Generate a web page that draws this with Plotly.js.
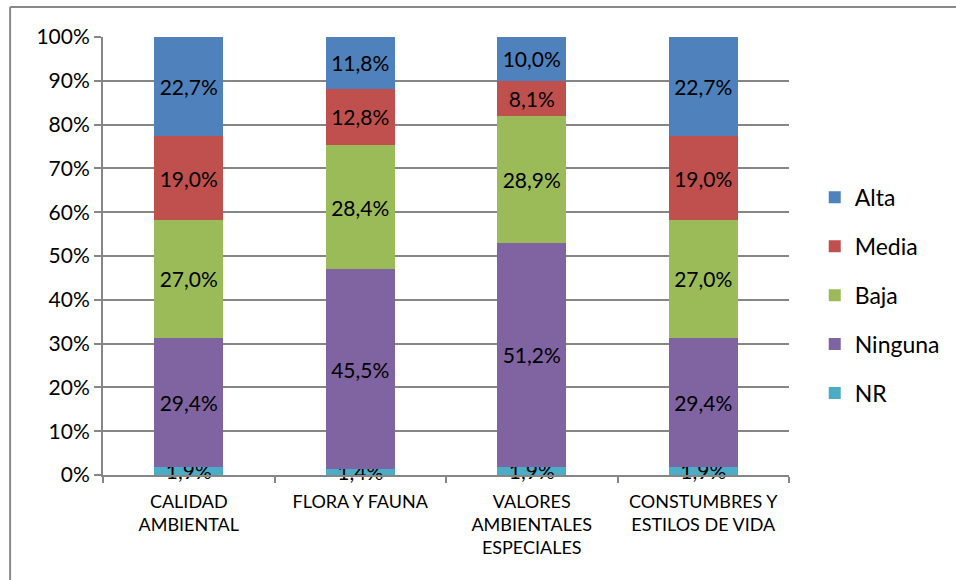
<!DOCTYPE html>
<html>
<head>
<meta charset="utf-8">
<script src="https://cdn.plot.ly/plotly-3.0.1.min.js"></script>
<style>html,body{margin:0;padding:0;background:#fff;}#chart{width:956px;height:580px;}</style>
</head>
<body>
<div id="chart"></div>
<script>
const categories = ["CALIDAD<br>AMBIENTAL", "FLORA Y FAUNA", "VALORES<br>AMBIENTALES<br>ESPECIALES", "CONSTUMBRES Y<br>ESTILOS DE VIDA"];
const seriesNames = ["NR", "Ninguna", "Baja", "Media", "Alta"];
const nr = [1.9, 1.4, 1.9, 1.9];
const ninguna = [29.4, 45.5, 51.2, 29.4];
const baja = [27.0, 28.4, 28.9, 27.0];
const media = [19.0, 12.8, 8.1, 19.0];
const alta = [22.7, 11.8, 10.0, 22.7];
const yTicks = [0, 10, 20, 30, 40, 50, 60, 70, 80, 90, 100];

const seriesValues = [nr, ninguna, baja, media, alta];
const colors = ["#4BACC6", "#8064A2", "#9BBB59", "#C0504D", "#4F81BD"];
const FONT = "Lato, 'Open Sans', sans-serif";

const traces = seriesValues.map((vals, i) => ({
  type: "bar",
  name: seriesNames[i],
  x: categories,
  y: vals,
  text: vals.map(v => v.toFixed(1).replace(".", ",") + "%"),
  texttemplate: "%{text}",
  textposition: "inside",
  insidetextanchor: "middle",
  constraintext: "none",
  cliponaxis: false,
  textangle: 0,
  textfont: {family: FONT, size: 21, color: "#000"},
  marker: {color: colors[i], line: {width: 0}},
  legendgroup: "g" + i,
  legendrank: seriesValues.length - i,
  hoverinfo: "name+y"
}));

const layout = {
  width: 956, height: 580,
  margin: {l: 103, r: 166, t: 37, b: 105},
  paper_bgcolor: "#fff", plot_bgcolor: "#fff",
  barmode: "stack",
  barnorm: "percent",
  bargap: 0.6,
  separators: ",.",
  font: {family: FONT, color: "#000"},
  xaxis: {
    type: "category",
    showgrid: false,
    showline: true, linecolor: "#868686", linewidth: 2,
    ticks: "outside", tickson: "boundaries", ticklen: 6, tickcolor: "#868686", tickwidth: 2,
    tickfont: {family: FONT, size: 18, color: "#000"},
    ticklabelstandoff: 9,
    tickangle: 0,
    fixedrange: true
  },
  yaxis: {
    range: [0, 100],
    tickvals: yTicks,
    ticktext: yTicks.map(v => v + "%"),
    showgrid: true, gridcolor: "#868686", gridwidth: 2,
    showline: true, linecolor: "#868686", linewidth: 2,
    ticks: "outside", ticklen: 7, tickcolor: "#868686", tickwidth: 2,
    tickfont: {family: FONT, size: 21, color: "#000"},
    zeroline: false,
    fixedrange: true
  },
  legend: {
    x: 1.036, xanchor: "left", y: 0.41, yanchor: "middle",
    traceorder: "grouped",
    tracegroupgap: 16,
    font: {family: FONT, size: 23, color: "#000"},
    itemwidth: 30
  },
  showlegend: true,
  shapes: [
    {type: "line", xref: "paper", yref: "paper", x0: -0.1354, x1: -0.1354, y0: 1.0685, y1: -0.3, line: {color: "#898989", width: 2}},
    {type: "line", xref: "paper", yref: "paper", x0: -0.1354, x1: 1.3, y0: 1.0685, y1: 1.0685, line: {color: "#898989", width: 2}}
  ]
};

Plotly.newPlot("chart", traces, layout, {displayModeBar: false, staticPlot: true});
</script>
</body>
</html>
